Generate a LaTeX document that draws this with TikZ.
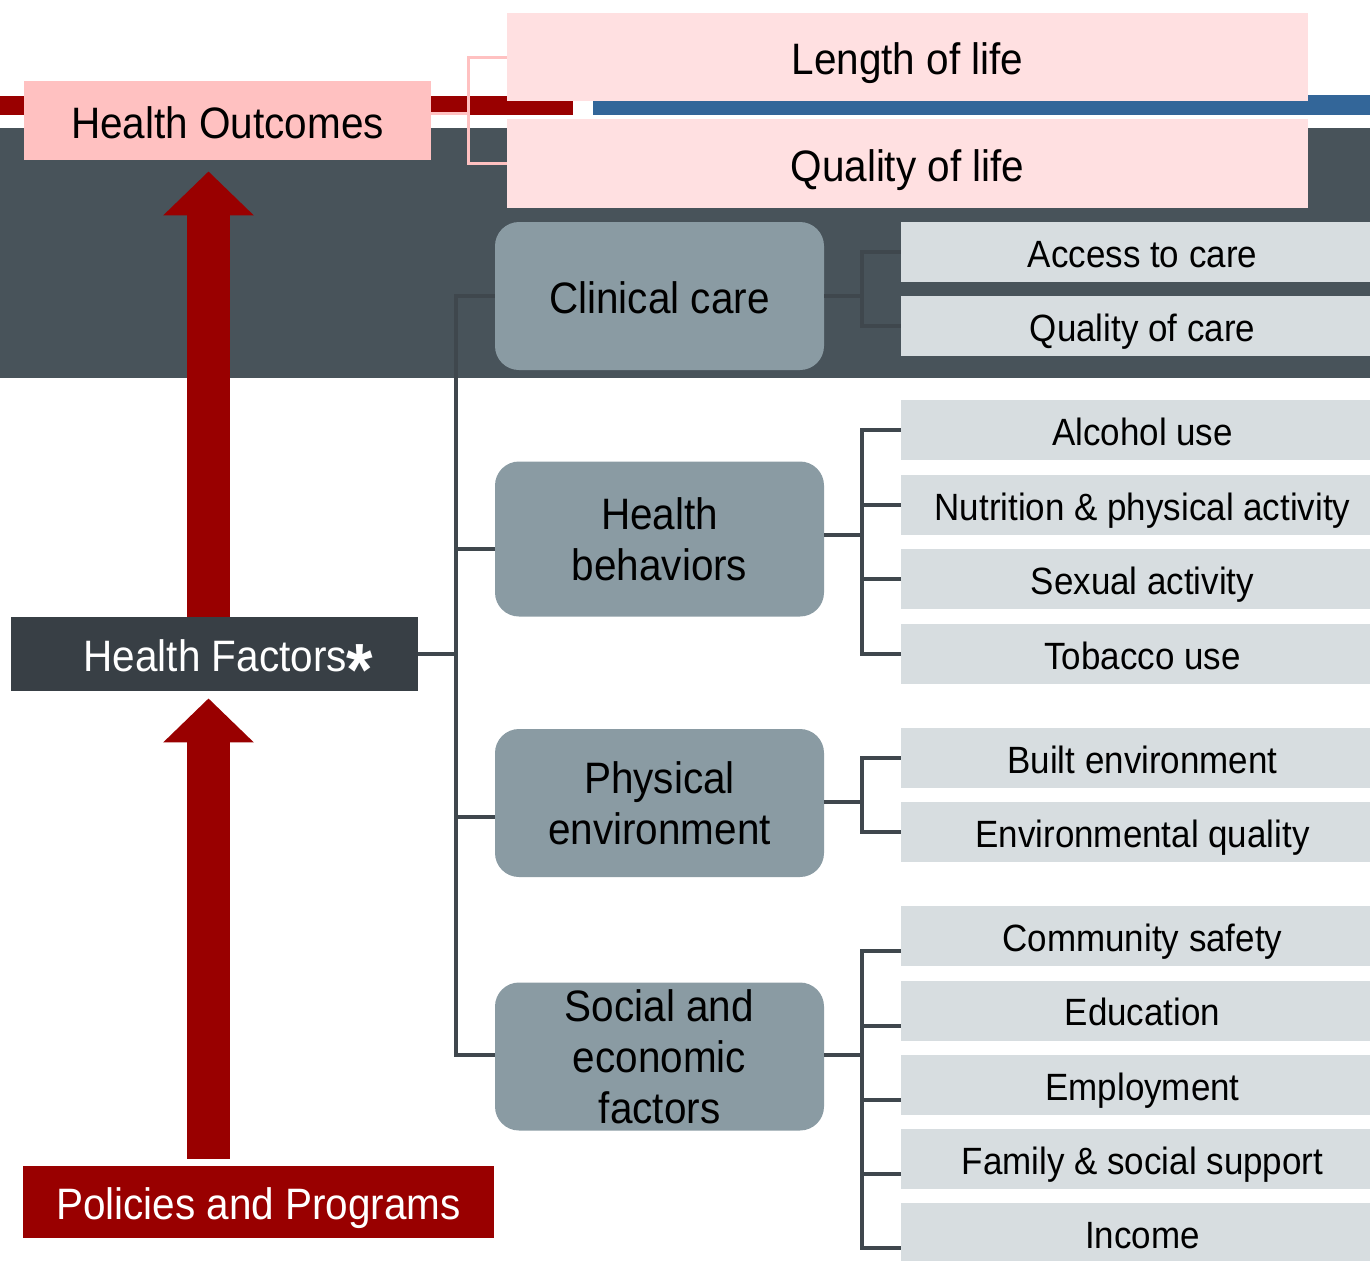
\documentclass[tikz,border=0pt]{standalone}
\usepackage{fontspec}
\setmainfont{Liberation Sans}[FakeStretch=0.92]
\usepackage{xcolor}
\usetikzlibrary{positioning,arrows.meta}

\definecolor{band}{HTML}{48535A}
\definecolor{hored}{HTML}{990000}
\definecolor{hoblue}{HTML}{336699}
\definecolor{outpink}{HTML}{FFC1C1}
\definecolor{lifepink}{HTML}{FFE0E1}
\definecolor{factordark}{HTML}{383F45}
\definecolor{catgray}{HTML}{8A9BA3}
\definecolor{itemgray}{HTML}{D7DDE0}
\definecolor{linkgray}{HTML}{3F474D}

\begin{document}
\begin{tikzpicture}[x=0.5pt,y=-0.5pt,
    every node/.style={inner sep=0pt,align=center},
    bigfont/.style={font=\fontsize{22}{25.5}\selectfont},
    oneline/.style={text height=17.6pt,text depth=0pt},
    outbox/.style={bigfont,oneline,fill=outpink,minimum width=203.5pt,minimum height=39.5pt},
    lifebox/.style={bigfont,oneline,fill=lifepink,minimum width=400.5pt,minimum height=44.5pt},
    factorbox/.style={bigfont,oneline,fill=factordark,text=white,minimum width=203.5pt,minimum height=37pt},
    policybox/.style={bigfont,oneline,fill=hored,text=white,minimum width=235.5pt,minimum height=36pt},
    catbox/.style={bigfont,fill=catgray,rounded corners=12pt,minimum width=164.5pt,minimum height=74pt},
    itembox/.style={fill=itemgray,minimum width=241.5pt,minimum height=30pt,
      text height=15.2pt,text depth=0pt,font=\fontsize{19}{22}\selectfont},
    link/.style={draw=linkgray,line width=2pt},
    pinklink/.style={draw=outpink,line width=1.5pt},
    bigarrow/.style={draw=hored,line width=21.5pt,-{Triangle[width=44pt,length=22pt]}}]
  \useasboundingbox (0,0) rectangle (1370,1260);

  % band and the two bars behind the outcomes
  \fill[band] (0,128) rectangle (1370,378);
  \fill[hored] (0,96) rectangle (573,115);
  \fill[hoblue] (593,95) rectangle (1370,115);

  % trunks for the brackets
  \coordinate (ltrunk) at (456,0);
  \coordinate (rtrunk) at (862,0);
  \coordinate (ax) at (208.5,0);
  \coordinate (ob) at (468,113);

  % outcomes
  \node[outbox] (outcomes) at (227.5,120.5) {Health Outcomes};
  \node[lifebox,minimum height=44pt] (lengthlife) at (907.5,57) {Length of life};
  \node[lifebox] (qualitylife) at (907.5,163.5) {Quality of life};
  \draw[pinklink] ([yshift=3.75pt]outcomes.east) -- (ob);
  \draw[pinklink] (lengthlife.west) -| (ob) |- (qualitylife.west);

  % factors and policies
  \node[factorbox] (factors) at (214.5,654) {\hspace*{14pt}Health Factors{\fontsize{37}{37}\selectfont\bfseries\raisebox{-12pt}[0pt][0pt]{*}}};
  \node[policybox] (policies) at (258.5,1202) {Policies and Programs};
  \draw[bigarrow] (ax |- factors.north) -- ([yshift=-5.5pt]ax |- outcomes.south);
  \draw[bigarrow] ([yshift=3.5pt]ax |- policies.north) -- ([yshift=-3.5pt]ax |- factors.south);

  % factor groups
  \node[catbox,oneline] (clinical) at (659.5,296) {Clinical care};
  \node[catbox,minimum height=77.5pt] (behaviors) at (659.5,539) {Health\\behaviors};
  \node[catbox] (physical) at (659.5,803) {Physical\\environment};
  \node[catbox] (social) at (659.5,1056.5) {Social and\\economic\\factors};

  \draw[link] (factors.east) -- (factors.east -| ltrunk);
  \draw[link] (clinical.west) -| ([yshift=0.75pt]social.west -| ltrunk) -- ([yshift=0.75pt]social.west);
  \draw[link] ([yshift=-5pt]behaviors.west) -- ++(-19.5pt,0);
  \draw[link] ([yshift=-7pt]physical.west) -- ++(-19.5pt,0);

  % measures
  \node[itembox] (access) at (1142.5,252) {Access to care};
  \node[itembox] (carequal) at (1142.5,326) {Quality of care};
  \node[itembox] (alcohol) at (1142.5,430) {Alcohol use};
  \node[itembox] (nutrition) at (1142.5,505) {Nutrition \& physical activity};
  \node[itembox] (sexual) at (1142.5,579) {Sexual activity};
  \node[itembox] (tobacco) at (1142.5,654) {Tobacco use};
  \node[itembox] (built) at (1142.5,758) {Built environment};
  \node[itembox] (envqual) at (1142.5,832) {Environmental quality};
  \node[itembox] (safety) at (1142.5,936) {Community safety};
  \node[itembox] (education) at (1142.5,1010.5) {Education};
  \node[itembox] (employment) at (1142.5,1085) {Employment};
  \node[itembox] (family) at (1142.5,1159) {Family \& social support};
  \node[itembox] (income) at (1142.5,1233) {Income};

  % clinical care
  \draw[link] (clinical.east) -- (clinical.east -| rtrunk);
  \draw[link] (access.west) -| (carequal.west -| rtrunk) -- (carequal.west);
  % health behaviors
  \draw[link] ([yshift=2pt]behaviors.east) -- ([yshift=2pt]behaviors.east -| rtrunk);
  \draw[link] (alcohol.west) -| (tobacco.west -| rtrunk) -- (tobacco.west);
  \draw[link] (nutrition.west) -- (nutrition.west -| rtrunk);
  \draw[link] (sexual.west) -- (sexual.west -| rtrunk);
  % physical environment
  \draw[link] ([yshift=0.5pt]physical.east) -- ([yshift=0.5pt]physical.east -| rtrunk);
  \draw[link] (built.west) -| (envqual.west -| rtrunk) -- (envqual.west);
  % social and economic factors
  \draw[link] ([yshift=0.75pt]social.east) -- ([yshift=0.75pt]social.east -| rtrunk);
  \draw[link] ([yshift=-7.5pt]safety.west) -| ([yshift=-7.5pt]income.west -| rtrunk) -- ([yshift=-7.5pt]income.west);
  \draw[link] ([yshift=-7.5pt]education.west) -- ([yshift=-7.5pt]education.west -| rtrunk);
  \draw[link] ([yshift=-7.5pt]employment.west) -- ([yshift=-7.5pt]employment.west -| rtrunk);
  \draw[link] ([yshift=-7.5pt]family.west) -- ([yshift=-7.5pt]family.west -| rtrunk);
\end{tikzpicture}
\end{document}
